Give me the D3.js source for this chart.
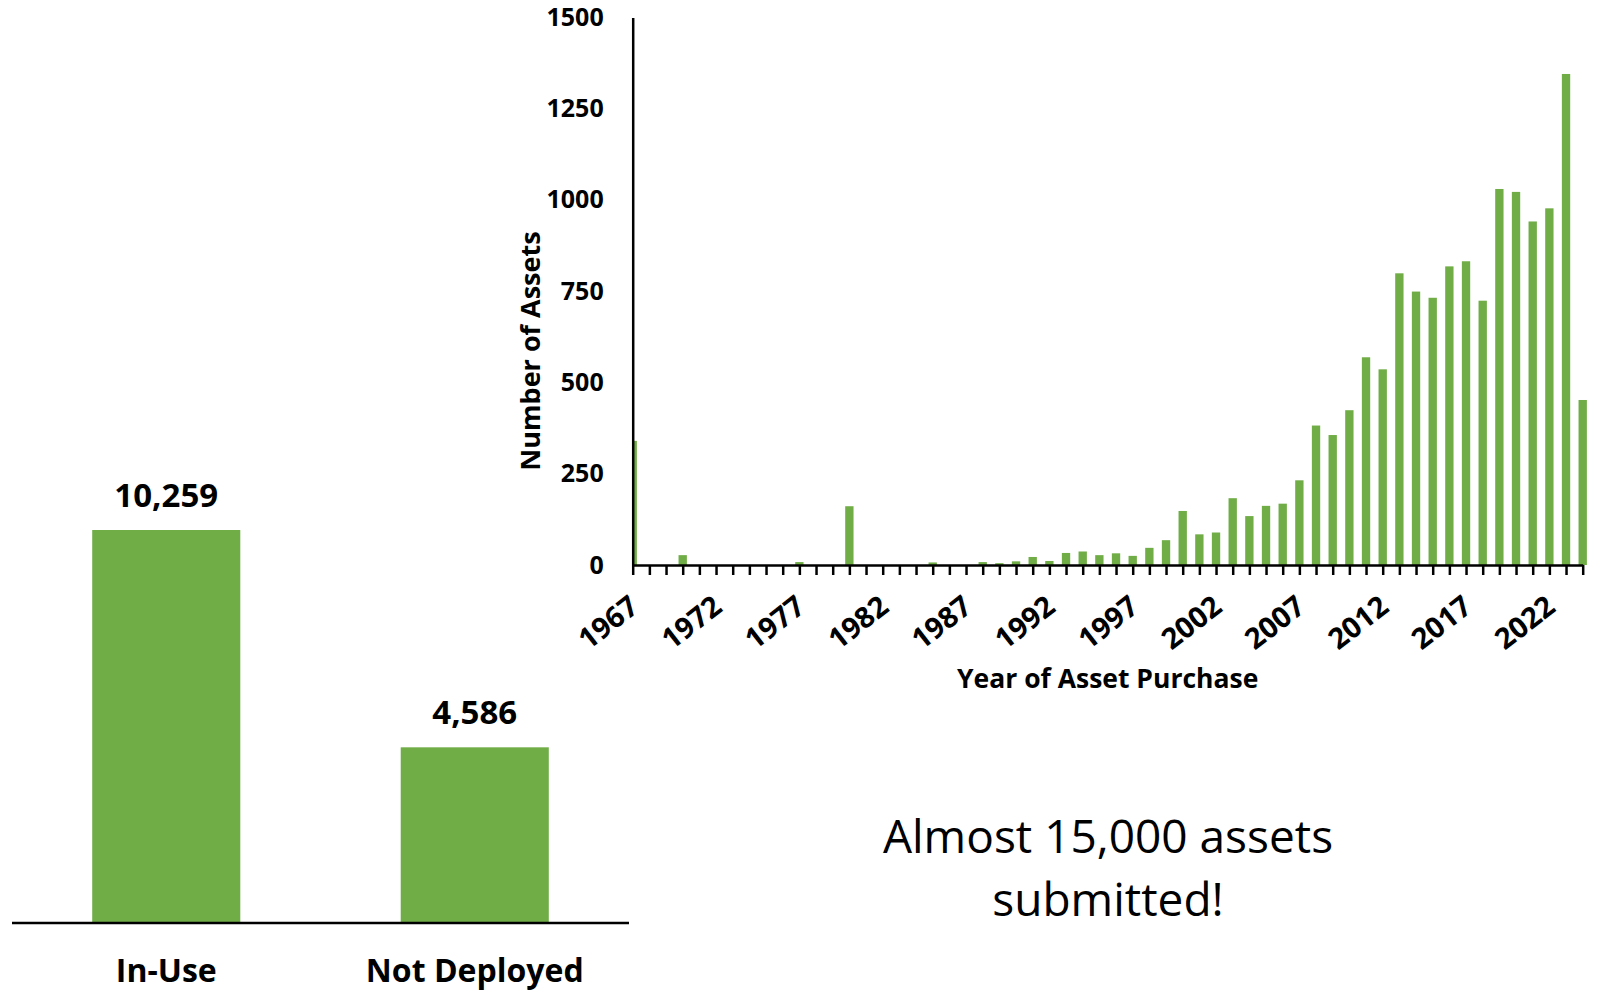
<!DOCTYPE html>
<html><head><meta charset="utf-8">
<script src="https://cdn.jsdelivr.net/npm/d3@7/dist/d3.min.js"></script>
<style>
html,body{margin:0;padding:0;background:#ffffff;}
svg{display:block;font-family:"Open Sans","Noto Sans",sans-serif;}
</style>
</head><body>
<svg id="chart" width="1603" height="990"></svg>
<script>
// ---- Data ----
const statusCategories = ["In-Use", "Not Deployed"];
const statusValues = [10259, 4586];

const purchaseYears = [1967,1968,1969,1970,1971,1972,1973,1974,1975,1976,1977,1978,1979,1980,1981,1982,1983,1984,1985,1986,1987,1988,1989,1990,1991,1992,1993,1994,1995,1996,1997,1998,1999,2000,2001,2002,2003,2004,2005,2006,2007,2008,2009,2010,2011,2012,2013,2014,2015,2016,2017,2018,2019,2020,2021,2022,2023,2024];
const assetCounts = [340,0,0,27,0,0,0,0,0,0,8,0,0,161,0,0,0,0,7,0,0,8,5,10,22,11,33,37,27,32,25,47,68,148,84,89,183,134,162,168,232,382,356,424,569,536,799,749,732,818,832,724,1030,1022,941,977,1345,452];

const yTickValues = [0, 250, 500, 750, 1000, 1250, 1500];
const xTickLabels = ["1967","1972","1977","1982","1987","1992","1997","2002","2007","2012","2017","2022"];

const annotationLines = ["Almost 15,000 assets", "submitted!"];

const GREEN = "#70AD47";
const svg = d3.select("#chart");

// ---- Left chart: status ----
const lx = d3.scaleBand().domain(statusCategories).range([12, 629]).paddingInner(0.52).paddingOuter(0.26);
const ly = d3.scaleLinear().domain([0, 12000]).range([923, 923 - 12000 * 393 / 10259]);

const left = svg.append("g");
left.selectAll("rect.s").data(statusCategories).join("rect")
  .attr("x", d => lx(d))
  .attr("width", lx.bandwidth())
  .attr("y", (d, i) => ly(statusValues[i]))
  .attr("height", (d, i) => ly(0) - ly(statusValues[i]))
  .attr("fill", GREEN);

left.selectAll("text.v").data(statusCategories).join("text")
  .attr("x", d => lx(d) + lx.bandwidth() / 2)
  .attr("y", (d, i) => ly(statusValues[i]) - 23)
  .attr("text-anchor", "middle")
  .attr("font-size", 33).attr("font-weight", 700).attr("fill", "#000")
  .text((d, i) => d3.format(",")(statusValues[i]));

left.append("line")
  .attr("x1", 12).attr("x2", 629).attr("y1", ly(0)).attr("y2", ly(0))
  .attr("stroke", "#000").attr("stroke-width", 2.5);

left.selectAll("text.c").data(statusCategories).join("text")
  .attr("x", d => lx(d) + lx.bandwidth() / 2)
  .attr("y", 982)
  .attr("text-anchor", "middle")
  .attr("font-size", 32).attr("font-weight", 700).attr("fill", "#000")
  .text(d => d);

// ---- Right chart: year histogram ----
const x0 = 632.7, x1 = 1582.7, yBase = 565, yTop = 17.4;
const x = d3.scalePoint().domain(purchaseYears).range([x0, x1]);
const y = d3.scaleLinear().domain([0, 1500]).range([yBase, yTop]);
const bw = x.step() * 0.5;

svg.append("defs").append("clipPath").attr("id", "plotclip")
  .append("rect").attr("x", x0).attr("y", 0).attr("width", 1603 - x0).attr("height", yBase);

const right = svg.append("g");
right.append("g").attr("clip-path", "url(#plotclip)")
  .selectAll("rect").data(purchaseYears).join("rect")
  .attr("x", d => x(d) - bw / 2)
  .attr("width", bw)
  .attr("y", (d, i) => y(assetCounts[i]))
  .attr("height", (d, i) => yBase - y(assetCounts[i]))
  .attr("fill", GREEN);

// y axis
const yAxis = right.append("g").attr("transform", `translate(${x0},0)`)
  .call(d3.axisLeft(y).tickValues(yTickValues).tickFormat(d3.format("d"))
    .tickSize(0).tickSizeOuter(0).tickPadding(29));
yAxis.select(".domain").attr("stroke", "#000").attr("stroke-width", 2.5);
yAxis.selectAll("text").attr("font-size", 25).attr("font-weight", 700).attr("fill", "#000")
  .attr("font-family", "'Open Sans','Noto Sans',sans-serif");

// x axis
const xAxis = right.append("g").attr("transform", `translate(0,${yBase})`)
  .call(d3.axisBottom(x).tickSize(10).tickSizeOuter(0)
    .tickFormat(d => xTickLabels.includes(String(d)) ? String(d) : ""));
xAxis.select(".domain").attr("stroke", "#000").attr("stroke-width", 2.5);
xAxis.selectAll(".tick line").attr("stroke", "#000").attr("stroke-width", 2.5);
xAxis.selectAll("text")
  .attr("font-size", 29).attr("font-weight", 700).attr("fill", "#000")
  .attr("font-family", "'Open Sans','Noto Sans',sans-serif")
  .attr("x", 0).attr("y", 0).attr("dy", "0.35em")
  .attr("text-anchor", "end")
  .attr("transform", "translate(1,37) rotate(-38)");

// axis titles
right.append("text")
  .attr("transform", `translate(529,351) rotate(-90)`)
  .attr("text-anchor", "middle").attr("dominant-baseline", "central")
  .attr("font-size", 27).attr("font-weight", 700).attr("fill", "#000")
  .text("Number of Assets");

right.append("text")
  .attr("x", (x0 + x1) / 2).attr("y", 688)
  .attr("text-anchor", "middle")
  .attr("font-size", 26.5).attr("font-weight", 700).attr("fill", "#000")
  .text("Year of Asset Purchase");

// annotation
svg.append("g").selectAll("text").data(annotationLines).join("text")
  .attr("x", 1108).attr("y", (d, i) => 853 + i * 63)
  .attr("text-anchor", "middle")
  .attr("font-size", 46).attr("fill", "#000")
  .text(d => d);
</script>
</body></html>
